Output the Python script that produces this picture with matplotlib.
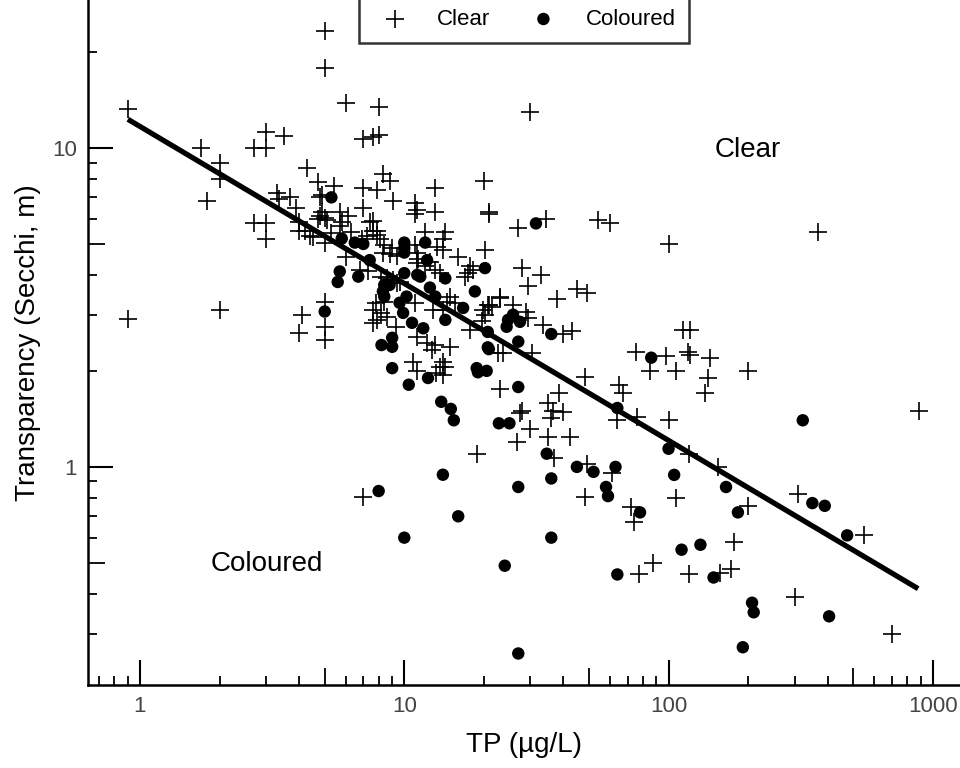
import matplotlib
matplotlib.use("Agg")
import matplotlib.pyplot as plt
from matplotlib.ticker import FixedLocator, NullFormatter, FixedFormatter

plt.rcParams['font.family'] = ['Liberation Sans', 'DejaVu Sans']

# ----------------------------
# Data (TP in ug/L, Secchi depth in m)
# ----------------------------
clear_tp = [5.0, 5.0, 6.0, 8.0, 0.9, 3.0, 3.5, 7.0, 7.6, 8.0, 1.7, 2.7, 3.0, 2.0, 2.0, 1.8,
            4.3, 4.7, 5.4, 7.0, 7.9, 8.3, 3.3, 3.7, 3.35, 3.9, 4.8, 7.0, 4.9, 4.8, 6.1, 2.7,
            3.0, 3.0, 4.0, 4.4, 7.9, 8.1, 7.6, 0.9, 2.0, 8.8, 20, 13.1, 4.9, 9.1, 11, 11.2,
            11, 13.1, 21, 5.0, 4.7, 5.7, 5.1, 5.8, 5.7, 7.4, 7.6, 7.9, 7.2, 4.0, 4.2, 4.5,
            5.0, 5.3, 6.3, 6.9, 12, 14.3, 14, 13.3, 14, 8.4, 9.0, 8.3, 8.8, 9.4, 11, 11.2,
            20.2, 16, 17.7, 18.2, 17.4, 17, 6.0, 6.8, 7.3, 11.3, 11.2, 12.5, 12, 13.1, 13.7,
            8.2, 8.6, 9.1, 9.6, 9.4, 8.4, 7.8, 7.6, 8.2, 7.9, 8.6, 9.3, 11, 12.9, 14, 14.5,
            15.6, 14.9, 19.9, 21, 23, 17.7, 19.6, 5.0, 5.0, 5.0, 4.1, 4.0, 7.6, 11.2, 12.2,
            13.1, 12.7, 14.9, 10.8, 11.2, 14, 14.3, 20.2, 21.5, 22.6, 20.9, 27, 34.5, 54,
            60, 100, 27.8, 33, 29.5, 38, 45, 49, 23, 20.7, 25.8, 29, 29.3, 33.5, 40, 43.3,
            23.6, 30.5, 75, 98, 30, 13.7, 14, 13.2, 23, 28, 27.4, 30, 26.6, 18.8, 35, 38.5,
            40, 36, 35, 42.4, 36.5, 37, 49, 48.5, 48.5, 7, 113, 121, 118, 121, 143, 200,
            85, 107, 141, 137, 65, 67, 64, 76, 100, 890, 120, 154, 61, 310, 107, 72, 74,
            200, 550, 177, 77, 87, 120, 157, 173, 300, 700, 367]
clear_secchi = [23.3, 17.8, 13.8, 13.4, 13.2, 11.2, 10.9, 10.7, 10.8, 11.0, 10.0, 10.0, 10.0,
                9.0, 8.0, 6.8, 8.65, 7.8, 7.6, 7.5, 7.4, 8.3, 7.2, 7.0, 6.9, 6.5, 7.0, 6.5,
                6.3, 6.1, 6.1, 5.8, 5.8, 5.2, 5.5, 5.3, 5.5, 5.2, 5.9, 2.9, 3.1, 7.9, 7.9,
                7.5, 7.1, 6.8, 6.7, 6.4, 6.2, 6.3, 6.3, 6.05, 6.0, 6.3, 5.95, 5.85, 5.7,
                5.85, 5.5, 5.35, 5.3, 5.85, 5.5, 5.25, 5.05, 5.4, 5.45, 5.2, 5.45, 5.45,
                5.2, 4.9, 4.8, 4.95, 4.85, 4.7, 4.65, 4.6, 4.95, 4.7, 4.8, 4.55, 4.25, 4.15,
                4.05, 3.95, 4.55, 4.15, 4.1, 4.5, 4.35, 4.4, 4.25, 4.15, 4.05, 3.95, 3.9,
                3.86, 3.8, 3.78, 3.3, 3.27, 3.1, 3.04, 2.89, 2.95, 2.75, 3.27, 3.1, 3.1, 3.3,
                3.27, 3.42, 3.1, 3.22, 3.42, 2.69, 2.87, 3.3, 2.75, 2.5, 3.0, 2.63, 2.83,
                2.56, 2.45, 2.41, 2.32, 2.38, 2.13, 2.0, 2.14, 2.06, 3.0, 3.18, 2.27, 6.2,
                5.6, 6.0, 5.95, 5.8, 5.0, 4.2, 4.0, 3.7, 3.36, 3.6, 3.5, 3.38, 3.22, 3.22,
                3.06, 2.93, 2.79, 2.61, 2.67, 2.27, 2.27, 2.3, 2.22, 13.0, 2.05, 1.94, 1.97,
                1.76, 1.5, 1.48, 1.31, 1.2, 1.1, 1.59, 1.71, 1.49, 1.42, 1.24, 1.24, 1.5,
                1.07, 1.02, 0.805, 1.91, 0.805, 2.69, 2.69, 2.3, 2.24, 2.2, 2.0, 2.0, 2.0,
                1.9, 1.71, 1.81, 1.71, 1.40, 1.43, 1.40, 1.5, 1.1, 1.0, 0.96, 0.82, 0.8,
                0.75, 0.67, 0.755, 0.61, 0.58, 0.46, 0.5, 0.46, 0.465, 0.48, 0.39, 0.30, 5.45]

coloured_tp = [5.3, 5.8, 6.5, 7.0, 12, 10, 10, 10, 7.4, 12.2, 11.2, 11.5, 10, 5.7, 5.6, 6.7,
               14.3, 20.2, 18.5, 16.7, 8.4, 8.8, 8.3, 8.4, 10.2, 9.6, 12.5, 13.1, 14.3, 9.9,
               10.7, 11.8, 5.0, 8.2, 9.0, 9.0, 9.0, 18.8, 20.5, 20.7, 20.7, 31.5, 25.8, 24.7,
               24.4, 27.4, 36, 27, 20.9, 86, 10.4, 12.3, 19, 27, 13.8, 15, 15.4, 22.8, 25,
               34.6, 36, 27, 45, 52, 14, 8, 16, 10, 36, 24, 27, 64, 322, 100, 105, 165, 63,
               58, 59, 350, 390, 78, 183, 474, 112, 132, 64, 148, 207, 210, 405, 191]
coloured_secchi = [7.0, 5.2, 5.05, 5.0, 5.05, 5.05, 4.85, 4.7, 4.45, 4.45, 4.0, 3.95, 4.05,
                   4.1, 3.8, 3.95, 3.9, 4.2, 3.55, 3.15, 3.72, 3.72, 3.55, 3.42, 3.42, 3.27,
                   3.65, 3.42, 2.89, 3.04, 2.83, 2.72, 3.07, 2.41, 2.54, 2.38, 2.04, 2.04,
                   2.0, 2.65, 2.37, 5.8, 3.0, 2.89, 2.75, 2.85, 2.61, 2.47, 2.34, 2.2, 1.81,
                   1.9, 1.98, 1.78, 1.6, 1.52, 1.4, 1.37, 1.37, 1.1, 0.92, 0.865, 1.0, 0.965,
                   0.945, 0.84, 0.70, 0.6, 0.6, 0.49, 0.26, 1.53, 1.40, 1.14, 0.944, 0.865,
                   1.0, 0.865, 0.81, 0.77, 0.755, 0.72, 0.72, 0.61, 0.55, 0.57, 0.46, 0.45,
                   0.375, 0.35, 0.34, 0.272]

# regression line end points
line_tp = [0.9, 880]
line_secchi = [12.3, 0.415]

x_major = [1, 10, 100, 1000]
x_labels = ['1', '10', '100', '1000']
y_major = [1, 10]
y_labels = ['1', '10']


# ----------------------------
# Plot
# ----------------------------
fig = plt.figure(figsize=(9.6, 7.68), dpi=100)
ax = fig.add_axes([0.0917, 0.108, 0.9083, 0.892])

ax.scatter(clear_tp, clear_secchi, marker='+', s=150, linewidths=1.2,
           color='black', label='Clear', zorder=3)
ax.scatter(coloured_tp, coloured_secchi, marker='o', s=80, color='black',
           edgecolors='none', label='Coloured', zorder=3)
ax.plot(line_tp, line_secchi, color='black', linewidth=3.8, solid_capstyle='butt', zorder=4)

ax.set_xscale('log')
ax.set_yscale('log')
ax.set_xlim(0.636, 1267)
ax.set_ylim(0.207, 29.1)

for side in ['top', 'right']:
    ax.spines[side].set_visible(False)
for side in ['left', 'bottom']:
    ax.spines[side].set_linewidth(1.8)

# major ticks
ax.xaxis.set_major_locator(FixedLocator(x_major))
ax.xaxis.set_major_formatter(FixedFormatter(x_labels))
ax.yaxis.set_major_locator(FixedLocator(y_major))
ax.yaxis.set_major_formatter(FixedFormatter(y_labels))

# minor ticks (all but the 5s)
x_minor = [m * d for d in [0.1, 1, 10, 100, 1000] for m in [2, 3, 4, 6, 7, 8, 9]]
y_minor = [m * d for d in [0.1, 1, 10] for m in [2, 3, 4, 6, 7, 8, 9]]
ax.xaxis.set_minor_locator(FixedLocator(x_minor))
ax.yaxis.set_minor_locator(FixedLocator(y_minor))
ax.xaxis.set_minor_formatter(NullFormatter())
ax.yaxis.set_minor_formatter(NullFormatter())

ax.tick_params(which='major', direction='in', length=18, width=1.5,
               labelsize=16, labelcolor='#444444', pad=8)
ax.tick_params(which='minor', direction='in', length=6.5, width=1.3)

# medium ticks at the 5s
secx = ax.secondary_xaxis('bottom')
secx.set_xticks([0.5, 5, 50, 500])
secx.set_xticklabels([])
secx.tick_params(direction='in', length=12, width=1.3)
secx.spines['bottom'].set_visible(False)
secy = ax.secondary_yaxis('left')
secy.set_yticks([0.5, 5])
secy.set_yticklabels([])
secy.tick_params(direction='in', length=12, width=1.3)
secy.spines['left'].set_visible(False)
secx.xaxis.set_minor_locator(FixedLocator([]))
secy.yaxis.set_minor_locator(FixedLocator([]))

ax.set_xlabel('TP (µg/L)', fontsize=20, labelpad=11)
ax.set_ylabel('Transparency (Secchi, m)', fontsize=20, labelpad=8)

ax.text(200, 9.86, 'Clear', fontsize=20, ha='center', va='center')
ax.text(3.02, 0.497, 'Coloured', fontsize=20, ha='center', va='center')

leg = ax.legend(loc='lower center', bbox_to_anchor=(0.5, 0.937), ncol=2,
                fontsize=16, frameon=True, fancybox=False, edgecolor='black',
                handlelength=2.0, handletextpad=0.9, columnspacing=1.4,
                borderpad=0.6, borderaxespad=0.0)
leg.get_frame().set_linewidth(1.8)

fig.savefig('out.png', dpi=100)
